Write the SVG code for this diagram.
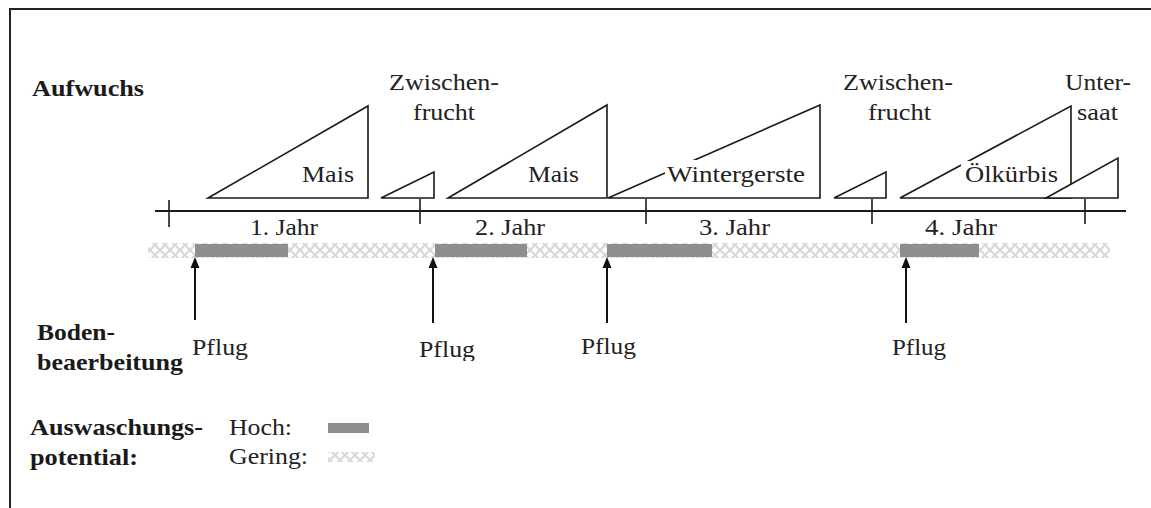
<svg xmlns="http://www.w3.org/2000/svg" width="1151" height="508" viewBox="0 0 1151 508">
  <style>
    .t { font-family: "Liberation Serif", "Times New Roman", serif; font-size: 24px; fill: #222; }
    .b { font-weight: bold; fill: #1a1a1a; }
    .tri { fill: #fff; stroke: #1a1a1a; stroke-width: 1.6; stroke-linejoin: miter; }
    .axis { stroke: #1a1a1a; stroke-width: 2; }
    .tick { stroke: #1a1a1a; stroke-width: 1.6; }
    .arrow { stroke: #111; stroke-width: 2; }
    .high { fill: #8e8e8e; }
  </style>
  <defs>
    <!-- light diamond hatch for low leaching potential -->
    <pattern id="low" width="10" height="10" patternUnits="userSpaceOnUse">
      <path d="M0,0 L10,10 M10,0 L0,10" stroke="#d9d9d9" stroke-width="2.2" fill="none"/>
    </pattern>
    <clipPath id="cut">
      <rect x="0" y="0" width="1151" height="361"/>
    </clipPath>
  </defs>

  <rect x="0" y="0" width="1151" height="508" fill="#fff"/>
  <!-- frame -->
  <path d="M10,508 V9 H1151" fill="none" stroke="#222" stroke-width="2"/>

  <!-- row labels -->
  <g id="label-aufwuchs">
    <text class="t b" x="32" y="96" textLength="112" lengthAdjust="spacingAndGlyphs">Aufwuchs</text>
  </g>
  <g id="label-boden">
    <text class="t b" x="37" y="340" textLength="78" lengthAdjust="spacingAndGlyphs">Boden-</text>
    <text class="t b" x="37" y="370" textLength="146" lengthAdjust="spacingAndGlyphs">beaerbeitung</text>
  </g>
  <g id="label-auswaschung">
    <text class="t b" x="30" y="435" textLength="173" lengthAdjust="spacingAndGlyphs">Auswaschungs-</text>
    <text class="t b" x="30" y="465" textLength="108" lengthAdjust="spacingAndGlyphs">potential:</text>
  </g>

  <!-- legend -->
  <g id="legend">
    <text class="t" x="229" y="435" textLength="63" lengthAdjust="spacingAndGlyphs">Hoch:</text>
    <text class="t" x="229" y="464" textLength="79" lengthAdjust="spacingAndGlyphs">Gering:</text>
    <rect class="high" x="328" y="423" width="41" height="10"/>
    <rect x="328" y="452" width="47" height="10" fill="url(#low)"/>
  </g>

  <!-- time axis -->
  <g id="axis">
    <line class="axis" x1="155" y1="211" x2="1126" y2="211"/>
    <line class="tick" x1="169" y1="200" x2="169" y2="227"/>
    <line class="tick" x1="420" y1="199" x2="420" y2="224"/>
    <line class="tick" x1="646" y1="199" x2="646" y2="224"/>
    <line class="tick" x1="872" y1="199" x2="872" y2="224"/>
    <line class="tick" x1="1085" y1="199" x2="1085" y2="224"/>
    <text class="t" x="250" y="235" textLength="68" lengthAdjust="spacingAndGlyphs">1. Jahr</text>
    <text class="t" x="475" y="235" textLength="70" lengthAdjust="spacingAndGlyphs">2. Jahr</text>
    <text class="t" x="699" y="235" textLength="71" lengthAdjust="spacingAndGlyphs">3. Jahr</text>
    <text class="t" x="925" y="235" textLength="72" lengthAdjust="spacingAndGlyphs">4. Jahr</text>
  </g>

  <!-- crops -->
  <g id="mais-1">
    <polygon class="tri" points="208,198 368,106 368,198"/>
    <text class="t" x="302" y="182" textLength="52" lengthAdjust="spacingAndGlyphs">Mais</text>
  </g>
  <g id="zwischenfrucht-1">
    <polygon class="tri" points="381,198 434,172 434,198"/>
    <text class="t" x="389" y="90" textLength="110" lengthAdjust="spacingAndGlyphs">Zwischen-</text>
    <text class="t" x="413" y="120" textLength="62" lengthAdjust="spacingAndGlyphs">frucht</text>
  </g>
  <g id="mais-2">
    <polygon class="tri" points="448,198 607,105 607,198"/>
    <text class="t" x="528" y="182" textLength="51" lengthAdjust="spacingAndGlyphs">Mais</text>
  </g>
  <g id="wintergerste">
    <polygon class="tri" points="608,198 820,105 820,198"/>
    <rect x="665" y="160" width="145" height="31" fill="#fff"/>
    <text class="t" x="667" y="182" textLength="138" lengthAdjust="spacingAndGlyphs">Wintergerste</text>
  </g>
  <g id="zwischenfrucht-2">
    <polygon class="tri" points="834,198 886,172 886,198"/>
    <text class="t" x="843" y="90" textLength="110" lengthAdjust="spacingAndGlyphs">Zwischen-</text>
    <text class="t" x="868" y="120" textLength="63" lengthAdjust="spacingAndGlyphs">frucht</text>
  </g>
  <g id="oelkuerbis">
    <polygon class="tri" points="900,198 1071,106 1071,198"/>
    <rect x="961" y="161" width="99" height="29" fill="#fff"/>
    <text class="t" x="965" y="182" textLength="93" lengthAdjust="spacingAndGlyphs">Ölkürbis</text>
  </g>
  <g id="untersaat">
    <polygon class="tri" points="1046,198 1118,158 1118,198"/>
    <text class="t" x="1065" y="90" textLength="66" lengthAdjust="spacingAndGlyphs">Unter-</text>
    <text class="t" x="1077" y="120" textLength="41" lengthAdjust="spacingAndGlyphs">saat</text>
  </g>

  <!-- leaching potential band -->
  <g id="leaching">
    <rect x="148" y="243" width="962" height="15" fill="url(#low)"/>
    <rect class="high" x="195" y="244" width="93" height="13"/>
    <rect class="high" x="435" y="244" width="92" height="13"/>
    <rect class="high" x="607" y="244" width="105" height="13"/>
    <rect class="high" x="900" y="244" width="79" height="13"/>
  </g>

  <!-- tillage events -->
  <g id="connectors">
    <line class="arrow" x1="195" y1="320" x2="195" y2="266"/>
    <polygon points="195,257 190.5,268 199.5,268" fill="#111"/>
    <line class="arrow" x1="433" y1="323" x2="433" y2="266"/>
    <polygon points="433,257 428.5,268 437.5,268" fill="#111"/>
    <line class="arrow" x1="607" y1="323" x2="607" y2="266"/>
    <polygon points="607,257 602.5,268 611.5,268" fill="#111"/>
    <line class="arrow" x1="906" y1="323" x2="906" y2="266"/>
    <polygon points="906,257 901.5,268 910.5,268" fill="#111"/>
  </g>
  <g id="pflug" clip-path="url(#cut)">
    <text class="t" x="192" y="355" textLength="56" lengthAdjust="spacingAndGlyphs">Pflug</text>
    <text class="t" x="419" y="357" textLength="56" lengthAdjust="spacingAndGlyphs">Pflug</text>
    <text class="t" x="581" y="354" textLength="55" lengthAdjust="spacingAndGlyphs">Pflug</text>
    <text class="t" x="892" y="355" textLength="54" lengthAdjust="spacingAndGlyphs">Pflug</text>
  </g>
</svg>
